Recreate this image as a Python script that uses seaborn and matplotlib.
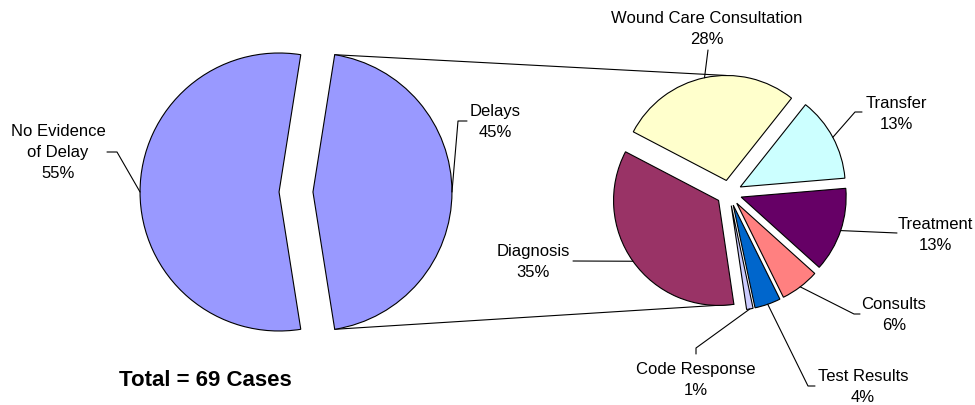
import numpy as np
import matplotlib
matplotlib.use("Agg")
import matplotlib.pyplot as plt
import seaborn as sns

# Share of cases with / without a documented delay
main_labels = ["Delays", "No Evidence\nof Delay"]
main_values = [45, 55]
main_colors = ["#9999FF", "#9999FF"]

# Breakdown of the delays by type (clockwise from the top-left)
delay_labels = ["Wound Care Consultation", "Transfer", "Treatment", "Consults",
                "Test Results", "Code Response", "Diagnosis"]
delay_values = [28, 13, 13, 6, 4, 1, 35]
delay_colors = ["#FFFFCC", "#CCFFFF", "#660066", "#FF8080",
                "#0066CC", "#CCCCFF", "#993366"]

total_cases = 69

sns.set_theme(style="white")
plt.rcParams["font.family"] = ["Liberation Sans", "DejaVu Sans"]

W, H = 975, 406
fig = plt.figure(figsize=(W / 100, H / 100), dpi=100)
ax = fig.add_axes([0, 0, 1, 1])

edge = dict(edgecolor="black", linewidth=0.8)
explode_frac = 0.122

# Left pie: the delayed share is centred on the right-hand side
left_center, left_r = (296, 213), 139
start_left = -main_values[0] / sum(main_values) * 180
left_wedges, _ = ax.pie(main_values, colors=main_colors, radius=left_r,
                        center=left_center, startangle=start_left,
                        counterclock=True,
                        explode=[explode_frac * left_r] * len(main_values),
                        wedgeprops=edge, frame=True)

# Right pie: breakdown of the delays
right_center, right_r = (729, 212), 105
right_wedges, _ = ax.pie(delay_values, colors=delay_colors, radius=right_r,
                         center=right_center, startangle=152.4,
                         counterclock=False,
                         explode=[explode_frac * right_r] * len(delay_values),
                         wedgeprops=edge, frame=True)


def arc_point(w, ang):
    cx, cy = w.center
    a = np.deg2rad(ang)
    return cx + w.r * np.cos(a), cy + w.r * np.sin(a)


def mid_point(w):
    return arc_point(w, (w.theta1 + w.theta2) / 2)


# Connector lines from the delayed slice to the breakdown pie
delay_wedge = left_wedges[0]
top_a = arc_point(delay_wedge, delay_wedge.theta2)
bot_a = arc_point(delay_wedge, delay_wedge.theta1)
top_b = arc_point(right_wedges[0], 90)
last = right_wedges[-1]
bot_b = arc_point(last, last.theta2)
for a, b in [(top_a, top_b), (bot_a, bot_b)]:
    ax.plot([a[0], b[0]], [a[1], b[1]], color="black", lw=0.8, zorder=0)

# Label text positions and leader-line bends
label_fs = 12


def place(w, name, pct, pos, elbow, tail):
    x0, y0 = mid_point(w)
    ax.plot([x0, elbow[0], tail[0]], [y0, elbow[1], tail[1]],
            color="black", lw=0.8, zorder=3)
    ax.text(pos[0], pos[1], f"{name}\n{pct}%", ha="center", va="center",
            multialignment="center", fontsize=label_fs, linespacing=1.5,
            color="black")


main_layout = {
    "Delays": ((495, 284), (458, 284), (467, 284)),
    "No Evidence\nof Delay": ((58, 253), (117, 253), (107, 253)),
}
for w, name, val in zip(left_wedges, main_labels, main_values):
    pos, elbow, tail = main_layout[name]
    place(w, name, val, pos, elbow, tail)

delay_layout = {
    "Wound Care Consultation": ((707, 377), (708, 355), (708, 355)),
    "Transfer": ((896, 292), (855, 293), (862, 293)),
    "Treatment": ((935, 171), (897, 172), (897, 172)),
    "Consults": ((894, 91), (854, 91), (860, 91)),
    "Test Results": ((863, 19), (808, 19), (815, 19)),
    "Code Response": ((696, 26), (696, 57), (696, 51)),
    "Diagnosis": ((533, 144), (573, 144), (573, 144)),
}
for w, name, val in zip(right_wedges, delay_labels, delay_values):
    pos, elbow, tail = delay_layout[name]
    place(w, name, val, pos, elbow, tail)

ax.text(205, 25, f"Total = {total_cases} Cases", ha="center", va="center",
        fontsize=16, fontweight="bold", color="black")

ax.set_xlim(0, W)
ax.set_ylim(0, H)
ax.set_aspect("equal")
ax.axis("off")

fig.savefig("out.png", dpi=100, facecolor="white")
